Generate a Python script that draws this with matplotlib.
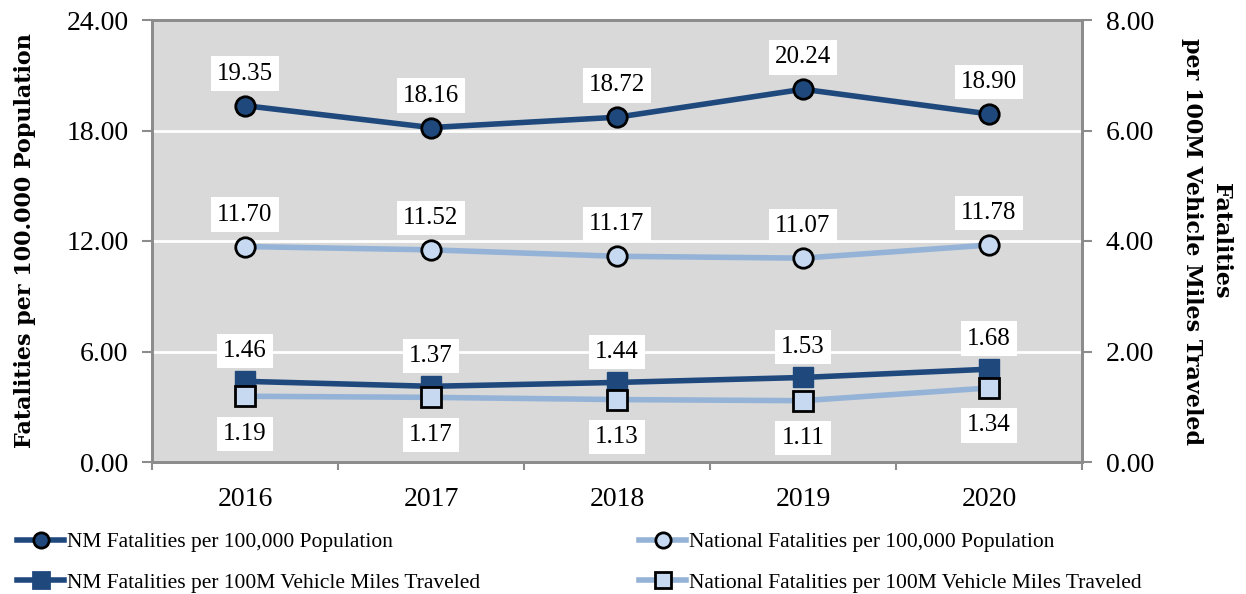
import matplotlib
matplotlib.use("Agg")
import matplotlib.pyplot as plt
from matplotlib.lines import Line2D

years = ["2016", "2017", "2018", "2019", "2020"]
nm_pop = [19.35, 18.16, 18.72, 20.24, 18.90]
nat_pop = [11.70, 11.52, 11.17, 11.07, 11.78]
nm_vmt = [1.46, 1.37, 1.44, 1.53, 1.68]
nat_vmt = [1.19, 1.17, 1.13, 1.11, 1.34]

left_ticks = [0, 6, 12, 18, 24]
right_ticks = [0, 2, 4, 6, 8]

DARK = "#1F497D"
LIGHT = "#95B3D7"
LIGHTFILL = "#C6D9F1"
GRAY = "#8C8C8C"

plt.rcParams['font.family'] = ['Liberation Serif', 'DejaVu Serif']
W, H = 1246, 594

fig = plt.figure(figsize=(W/100, H/100), dpi=100)
ax = fig.add_axes([152/W, 1-462/H, (1082-152)/W, (462-20)/H])
ax2 = ax.twinx()

x = list(range(len(years)))
ax.set_facecolor("#D9D9D9")
ax.set_xlim(-0.5, len(years)-0.5)
ax.set_ylim(0, 24)
ax2.set_ylim(0, 8)
ax.set_yticks(left_ticks)
ax.set_yticklabels([f"{v:.2f}" for v in left_ticks])
ax2.set_yticks(right_ticks)
ax2.set_yticklabels([f"{v:.2f}" for v in right_ticks])
ax.grid(axis='y', color='white', linewidth=2)
ax.set_axisbelow(True)

ax.set_xticks([i - 0.5 for i in range(len(years)+1)])
ax.set_xticklabels([])
ax.set_xticks(x, minor=True)
ax.set_xticklabels(years, minor=True)
ax.tick_params(axis='x', which='minor', length=0, labelsize=20, pad=18)
ax.tick_params(axis='x', which='major', length=6, width=1.5, color=GRAY, direction='out')
ax.tick_params(axis='y', length=7, width=1.5, color=GRAY, labelsize=20, pad=10)
ax2.tick_params(axis='y', length=7, width=1.5, color=GRAY, labelsize=20, pad=10)

for a in (ax, ax2):
    for s in a.spines.values():
        s.set_color(GRAY)
        s.set_linewidth(2)

ax.set_ylabel("Fatalities per 100.000 Population", fontsize=16, fontweight='bold',
              family='DejaVu Serif', labelpad=22)
ax2.set_ylabel("Fatalities\nper 100M Vehicle Miles Traveled", fontsize=16, fontweight='bold',
               family='DejaVu Serif', rotation=270, labelpad=56, linespacing=1.4)

lw = 4
ax.plot(x, nm_pop, color=DARK, lw=lw, marker='o', ms=14, mfc=DARK, mec='black', mew=2, zorder=5)
ax.plot(x, nat_pop, color=LIGHT, lw=lw, marker='o', ms=14, mfc=LIGHTFILL, mec='black', mew=2, zorder=5)
ax2.plot(x, nm_vmt, color=DARK, lw=lw, marker='s', ms=15, mfc=DARK, mec=DARK, mew=1, zorder=5)
ax2.plot(x, nat_vmt, color=LIGHT, lw=lw, marker='s', ms=14, mfc=LIGHTFILL, mec='black', mew=2, zorder=5)

box = dict(boxstyle='square,pad=0.25', fc='white', ec='none')
def labels(a, vals, dy):
    for xi, v in zip(x, vals):
        a.annotate(f"{v:.2f}", (xi, v), xytext=(0, dy), textcoords='offset points',
                   ha='center', va='center', fontsize=18, bbox=box, zorder=6)

labels(ax, nm_pop, 23)
labels(ax, nat_pop, 23)
labels(ax2, nm_vmt, 22)
labels(ax2, nat_vmt, -27)

def h(color, marker, fill, edge, ms):
    return Line2D([], [], color=color, lw=lw, marker=marker, ms=ms, mfc=fill, mec=edge, mew=2)

leg_kw = dict(loc='upper left', frameon=False, fontsize=15.5, handlelength=2.2,
              handletextpad=0.1, labelspacing=0.95, borderpad=0, borderaxespad=0)
leg1 = fig.legend([h(DARK, 'o', DARK, 'black', 11), h(DARK, 's', DARK, DARK, 12)],
                  ["NM Fatalities per 100,000 Population",
                   "NM Fatalities per 100M Vehicle Miles Traveled"],
                  bbox_to_anchor=(17/W, 1-532/H), **leg_kw)
leg2 = fig.legend([h(LIGHT, 'o', LIGHTFILL, 'black', 11), h(LIGHT, 's', LIGHTFILL, 'black', 11)],
                  ["National Fatalities per 100,000 Population",
                   "National Fatalities per 100M Vehicle Miles Traveled"],
                  bbox_to_anchor=(639/W, 1-532/H), **leg_kw)

fig.savefig("out.png", dpi=100)
